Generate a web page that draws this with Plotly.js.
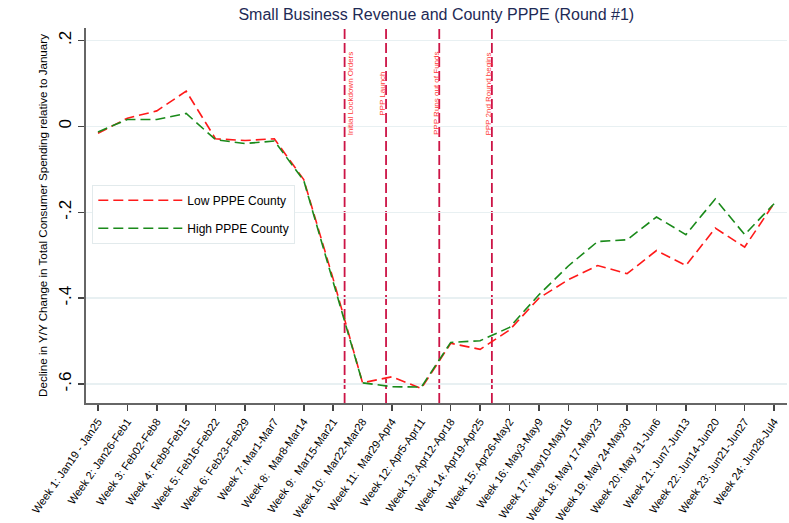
<!DOCTYPE html>
<html>
<head>
<meta charset="utf-8">
<script src="https://cdn.plot.ly/plotly-3.0.1.min.js"></script>
<style>html,body{margin:0;padding:0;background:#fff;}#chart{width:789px;height:523px;}</style>
</head>
<body>
<div id="chart"></div>
<script>
const weeks = [1,2,3,4,5,6,7,8,9,10,11,12,13,14,15,16,17,18,19,20,21,22,23,24];
const weekLabels = [
  "Week 1: Jan19 - Jan25","Week 2: Jan26-Feb1","Week 3: Feb02-Feb8","Week 4: Feb9-Feb15",
  "Week 5: Feb16-Feb22","Week 6: Feb23-Feb29","Week 7: Mar1-Mar7","Week 8:  Mar8-Mar14",
  "Week 9:  Mar15-Mar21","Week 10:  Mar22-Mar28","Week 11:  Mar29-Apr4","Week 12: Apr5-Apr11",
  "Week 13: Apr12-Apr18","Week 14: Apr19-Apr25","Week 15: Apr26-May2","Week 16: May3-May9",
  "Week 17: May10-May16","Week 18: May 17-May23","Week 19: May 24-May30","Week 20: May 31-Jun6",
  "Week 21: Jun7-Jun13","Week 22: Jun14-Jun20","Week 23: Jun21-Jun27","Week 24: Jun28-Jul4"
];
const lowPPPE = [-0.016,0.019,0.036,0.082,-0.029,-0.033,-0.029,-0.124,-0.355,-0.597,-0.583,-0.610,
  -0.505,-0.519,-0.474,-0.400,-0.357,-0.324,-0.343,-0.289,-0.324,-0.237,-0.281,-0.179];
const highPPPE = [-0.013,0.016,0.016,0.030,-0.031,-0.040,-0.034,-0.126,-0.362,-0.597,-0.606,-0.607,
  -0.503,-0.499,-0.468,-0.392,-0.325,-0.268,-0.264,-0.211,-0.252,-0.169,-0.252,-0.180];
const eventX = [9.39, 10.8, 12.61, 14.4];
const eventLabels = ["Initial Lockdown Orders","PPP Launch","PPP Runs out of Funds","PPP 2nd Round begins"];
const eventLabelY = 0.076;
const eventShift = [6, -3, -3, -3];
const yTicks = [-0.6,-0.4,-0.2,0,0.2];
const yTickText = ["-.6","-.4","-.2","0",".2"];

const FONT = "Arial, 'Liberation Sans', sans-serif";
const dashData = "10px,5px";

const traces = [
  {x: weeks, y: lowPPPE, type: "scatter", mode: "lines", name: "Low PPPE County",
   legendgroup: "a", line: {color: "#ff1a1a", width: 1.6, dash: dashData}},
  {x: weeks, y: highPPPE, type: "scatter", mode: "lines", name: "High PPPE County",
   legendgroup: "b", line: {color: "#1a8a1a", width: 1.6, dash: dashData}}
];

const shapes = eventX.map(x => ({
  type: "line", xref: "x", yref: "paper", x0: x, x1: x, y0: 0, y1: 1,
  line: {color: "#cc1446", width: 1.8, dash: "10px,4px"}, layer: "below"
}));

const annotations = eventX.map((x, i) => ({
  x: x, y: eventLabelY, xref: "x", yref: "y", text: eventLabels[i], showarrow: false,
  textangle: -90, xshift: eventShift[i], font: {family: FONT, size: 8, color: "#ff3838"}
}));

const layout = {
  width: 789, height: 523,
  margin: {l: 86, r: 2, t: 28, b: 120},
  paper_bgcolor: "#ffffff", plot_bgcolor: "#ffffff",
  font: {family: FONT, color: "#000"},
  title: {text: "Small Business Revenue and County PPPE (Round #1)",
          font: {family: FONT, size: 16, color: "#1e2a55"}, x: 0.553, xanchor: "center", y: 0.972, yanchor: "middle"},
  xaxis: {range: [0.592, 24.44], tickvals: weeks, ticktext: weekLabels, tickangle: -55,
          tickfont: {family: FONT, size: 11, color: "#000"}, showgrid: false, zeroline: false,
          showline: true, linecolor: "#666", linewidth: 2, ticks: "outside", ticklen: 6, tickwidth: 1.5, tickcolor: "#444"},
  yaxis: {range: [-0.644, 0.229], tickvals: yTicks, ticktext: yTickText, tickangle: -90,
          tickfont: {family: FONT, size: 17, color: "#000"}, showgrid: true, gridcolor: "#e8f0f2", gridwidth: 1.5,
          zeroline: false, showline: true, linecolor: "#666", linewidth: 2, ticks: "outside", ticklen: 6, tickwidth: 1.5, tickcolor: "#444",
          title: {text: "Decline in Y/Y Change in Total Consumer Spending relative to January",
                  font: {family: FONT, size: 11.6, color: "#000"}, standoff: 6}},
  showlegend: true,
  legend: {x: 0.009, y: 0.582, xanchor: "left", yanchor: "top", bgcolor: "#fff",
           bordercolor: "#e2eaec", borderwidth: 1, font: {family: FONT, size: 12, color: "#000"},
           itemwidth: 84, traceorder: "grouped", tracegroupgap: 9},
  shapes: shapes,
  annotations: annotations
};

Plotly.newPlot("chart", traces, layout, {displayModeBar: false, staticPlot: true});
</script>
</body>
</html>
